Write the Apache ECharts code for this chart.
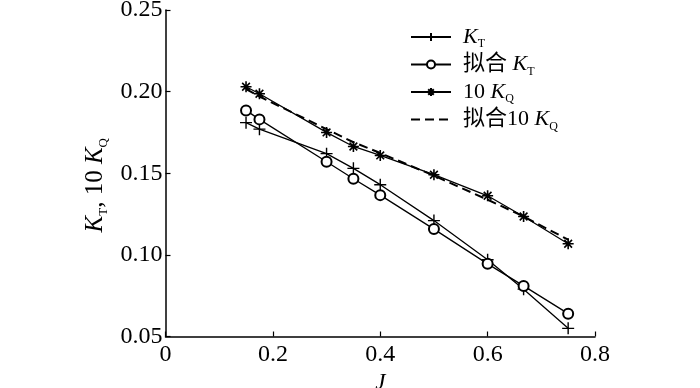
<!DOCTYPE html>
<html>
<head>
<meta charset="utf-8">
<script src="https://cdn.jsdelivr.net/npm/echarts@6/dist/echarts.min.js"></script>
<style>html,body{margin:0;padding:0;background:#fff;}#c{width:700px;height:388px;}</style>
</head>
<body>
<div id="c"></div>
<script>
var J = [0.15, 0.175, 0.3, 0.35, 0.4, 0.5, 0.6, 0.667, 0.75];
var KT = [0.181, 0.177, 0.162, 0.153, 0.143, 0.121, 0.097, 0.079, 0.055];
var fitKT = [0.1885, 0.183, 0.157, 0.1466, 0.1366, 0.1158, 0.0945, 0.081, 0.064];
var KQ10 = [0.203, 0.1987, 0.175, 0.1664, 0.1609, 0.1491, 0.1362, 0.1235, 0.1068];
var fitKQ10 = [0.2015, 0.197, 0.177, 0.169, 0.1624, 0.1485, 0.1338, 0.1235, 0.1093];
var xTicks = [0, 0.2, 0.4, 0.6, 0.8];
var yTicks = [0.05, 0.10, 0.15, 0.20, 0.25];
var names = ['KT', '拟合KT', '10KQ', '拟合10KQ'];

function pairs(xs, ys) { return xs.map(function (x, i) { return [x, ys[i]]; }); }

var FONT = "'Liberation Serif', 'Times New Roman', 'Noto Sans CJK SC', serif";
var rich = {
  i: { fontFamily: FONT, fontStyle: 'italic', fontSize: 22, color: '#000', lineHeight: 26 },
  n: { fontFamily: FONT, fontSize: 22, color: '#000', lineHeight: 26 },
  s: { fontFamily: FONT, fontSize: 12, color: '#000', lineHeight: 12, verticalAlign: 'bottom' }
};
var richName = {
  i: { fontFamily: FONT, fontStyle: 'italic', fontSize: 25, color: '#000', lineHeight: 28 },
  n: { fontFamily: FONT, fontSize: 25, color: '#000', lineHeight: 28 },
  s: { fontFamily: FONT, fontSize: 13, color: '#000', lineHeight: 13, verticalAlign: 'bottom' }
};
var legendText = {
  'KT': '{i|K}{s|T}',
  '拟合KT': '{n|拟合 }{i|K}{s|T}',
  '10KQ': '{n|10 }{i|K}{s|Q}',
  '拟合10KQ': '{n|拟合10 }{i|K}{s|Q}'
};
var plusPath = 'path://M5,0L5,10M0,5L10,5';
var starPath = 'path://M5,0L5,10M0,5L10,5M1.5,1.5L8.5,8.5M8.5,1.5L1.5,8.5';
var lineW = 1.3;
var chart = echarts.init(document.getElementById('c'));
chart.setOption({
  animation: false,
  backgroundColor: '#fff',
  grid: { left: 165.5, right: 105, top: 10, bottom: 51.5, outerBoundsMode: 'none', containLabel: false },
  legend: {
    orient: 'vertical', left: 405, top: 21,
    itemWidth: 40, itemHeight: 10, itemGap: 3.5,
    data: [
      { name: 'KT' }, { name: '拟合KT' }, { name: '10KQ' },
      { name: '拟合10KQ', itemStyle: { opacity: 0 } }
    ],
    formatter: function (n) { return legendText[n]; },
    textStyle: { rich: rich, padding: [0, 0, 0, 7] },
    inactiveColor: '#000'
  },
  xAxis: {
    type: 'value', min: 0, max: 0.8, interval: 0.2,
    name: 'J', nameLocation: 'middle', nameGap: 29,
    nameTextStyle: { fontFamily: FONT, fontStyle: 'italic', fontSize: 23, color: '#000' },
    axisLine: { onZero: false, lineStyle: { color: '#000', width: 1.5 } },
    axisTick: { inside: true, length: 5, lineStyle: { color: '#000', width: 1.2 } },
    axisLabel: { fontFamily: FONT, fontSize: 24, color: '#000', margin: 6,
      formatter: function (v) { return v === 0 ? '0' : String(+v.toFixed(1)); } },
    splitLine: { show: false }
  },
  yAxis: {
    type: 'value', min: 0.05, max: 0.25, interval: 0.05,
    name: '{i|K}{s|T}{n|, 10 }{i|K}{s|Q}', nameLocation: 'middle', nameGap: 48, nameRotate: 90,
    nameTextStyle: { rich: richName, padding: [0, 24, 0, 0] },
    axisLine: { onZero: false, lineStyle: { color: '#000', width: 1.5 } },
    axisTick: { inside: true, length: 5, lineStyle: { color: '#000', width: 1.2 } },
    axisLabel: { fontFamily: FONT, fontSize: 24, color: '#000', margin: 3,
      formatter: function (v) { return v.toFixed(2); } },
    splitLine: { show: false }
  },
  series: [
    { name: 'KT', type: 'line', data: pairs(J, KT), symbol: plusPath, symbolSize: 12,
      itemStyle: { color: '#000', borderColor: '#000', borderWidth: 1.4 },
      lineStyle: { color: '#000', width: lineW } },
    { name: '拟合KT', type: 'line', data: pairs(J, fitKT), symbol: 'emptyCircle', symbolSize: 10,
      itemStyle: { color: '#000', borderColor: '#000', borderWidth: 1.3 },
      lineStyle: { color: '#000', width: lineW } },
    { name: '10KQ', type: 'line', data: pairs(J, KQ10), symbol: starPath, symbolSize: 11,
      itemStyle: { color: '#000', borderColor: '#000', borderWidth: 1.6 },
      lineStyle: { color: '#000', width: lineW } },
    { name: '拟合10KQ', type: 'line', data: pairs(J, fitKQ10), showSymbol: false, symbol: 'none',
      itemStyle: { color: '#000' },
      lineStyle: { color: '#000', width: 2, type: [9, 5] } }
  ]
});
</script>
</body>
</html>
